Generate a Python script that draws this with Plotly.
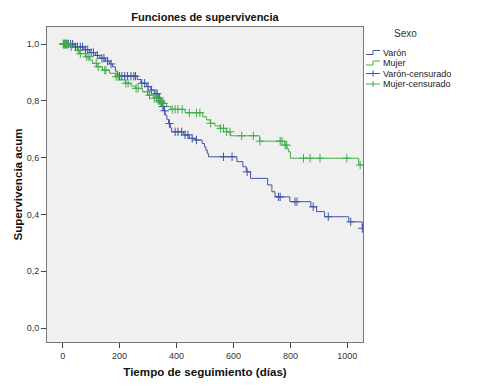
import numpy as np
import plotly.graph_objects as go

# Kaplan-Meier step data (time in days, cumulative survival)
varon_t = [0, 40, 75, 95, 115, 130, 150, 165, 175, 185, 192, 262, 275, 295, 310, 322, 335, 345, 350, 355, 360, 366, 372, 378, 383,
           425, 445, 465, 490, 498, 503, 508, 512, 612, 633, 645, 660, 720, 735, 746, 798, 872, 892, 920, 1005, 1052, 1055]
varon_s = [1.0, 0.99, 0.98, 0.97, 0.96, 0.95, 0.94, 0.93, 0.92, 0.905, 0.887, 0.875, 0.862, 0.85, 0.838, 0.825, 0.81, 0.795, 0.78, 0.765, 0.75, 0.735, 0.72, 0.705, 0.691,
           0.68, 0.668, 0.662, 0.65, 0.638, 0.627, 0.615, 0.603, 0.586, 0.568, 0.55, 0.527, 0.504, 0.48, 0.462, 0.445, 0.427, 0.41, 0.392, 0.374, 0.351, 0.351]
varon_cens = [3, 6, 9, 12, 15, 20, 28, 35, 45, 52, 62, 70, 80, 88, 100, 108, 122, 138, 145, 158, 170, 200, 208, 218, 228, 240, 250, 256,
              278, 288, 300, 312, 328, 332, 340, 346, 352, 358, 375, 395, 405, 418, 430, 440, 455, 470, 565, 595, 648, 758, 764,
              816, 823, 880, 933, 1012, 1053]

mujer_t = [0, 25, 45, 60, 80, 95, 105, 120, 140, 165, 185, 200, 220, 240, 255, 280, 300, 318, 335, 348, 365, 380, 430, 492, 505, 518,
           535, 553, 575, 590, 692, 780, 788, 793, 800, 1040, 1055]
mujer_s = [1.0, 0.99, 0.978, 0.966, 0.955, 0.944, 0.932, 0.92, 0.908, 0.897, 0.885, 0.874, 0.862, 0.852, 0.844, 0.832, 0.82, 0.809, 0.8, 0.791, 0.78, 0.77, 0.758, 0.744, 0.733, 0.721,
           0.712, 0.703, 0.691, 0.677, 0.658, 0.644, 0.632, 0.621, 0.598, 0.574, 0.574]
mujer_cens = [2, 4, 6, 8, 10, 12, 14, 18, 30, 55, 62, 85, 92, 118, 125, 148, 152, 188, 195, 222, 230, 258, 265, 298, 305, 322, 330,
              338, 342, 345, 350, 355, 385, 395, 405, 420, 445, 470, 482, 520, 555, 565, 576, 588, 629, 670, 693, 764, 770, 781,
              787, 846, 869, 904, 998, 1045]

x_ticks = [0, 200, 400, 600, 800, 1000]
y_ticks = [0.0, 0.2, 0.4, 0.6, 0.8, 1.0]

legend_title = "Sexo"
legend_names = ["Varón", "Mujer", "Varón-censurado", "Mujer-censurado"]

BLUE = "#3f55a5"
GREEN = "#3fae49"
FONT = "Liberation Sans, Arial, sans-serif"

W, H = 486, 389
ML, MR, MT, MB = 47, 123, 27, 47
PW, PH = W - ML - MR, H - MT - MB


def px(xp):
    return (xp - ML) / PW


def py(yp):
    return (H - MB - yp) / PH


def step_lookup(times, surv, pts):
    idx = np.searchsorted(np.array(times), np.array(pts), side="right") - 1
    return np.array(surv)[idx]


fig = go.Figure()
fig.add_trace(go.Scatter(x=varon_t, y=varon_s, mode="lines", line=dict(shape="hv", color=BLUE, width=1),
                         name=legend_names[0], showlegend=False))
fig.add_trace(go.Scatter(x=mujer_t, y=mujer_s, mode="lines", line=dict(shape="hv", color=GREEN, width=1),
                         name=legend_names[1], showlegend=False))
fig.add_trace(go.Scatter(x=varon_cens, y=step_lookup(varon_t, varon_s, varon_cens), mode="markers",
                         marker=dict(symbol="cross-thin", size=6, line=dict(color=BLUE, width=1)),
                         name=legend_names[2], showlegend=False))
fig.add_trace(go.Scatter(x=mujer_cens, y=step_lookup(mujer_t, mujer_s, mujer_cens), mode="markers",
                         marker=dict(symbol="cross-thin", size=6, line=dict(color=GREEN, width=1)),
                         name=legend_names[3], showlegend=False))

# Custom compact legend (SPSS style)
shapes = []
annotations = []
annotations.append(dict(text=legend_title, xref="paper", yref="paper", x=px(405), y=py(33), xanchor="center",
                        yanchor="middle", showarrow=False, font=dict(family=FONT, size=10, color="#333")))
row_y = [52.5, 63, 73.5, 84]
colors = [BLUE, GREEN, BLUE, GREEN]
for i, (name, c, ry) in enumerate(zip(legend_names, colors, row_y)):
    annotations.append(dict(text=name, xref="paper", yref="paper", x=px(381), y=py(ry), xanchor="left",
                            yanchor="middle", showarrow=False, font=dict(family=FONT, size=9, color="#222")))
    if i < 2:
        path = (f"M {px(366)},{py(ry + 2)} L {px(373)},{py(ry + 2)} L {px(373)},{py(ry - 2)} "
                f"L {px(380)},{py(ry - 2)}")
        shapes.append(dict(type="path", xref="paper", yref="paper", path=path, line=dict(color=c, width=1)))
    else:
        shapes.append(dict(type="line", xref="paper", yref="paper", x0=px(366), x1=px(380), y0=py(ry), y1=py(ry),
                           line=dict(color=c, width=1)))
        shapes.append(dict(type="line", xref="paper", yref="paper", x0=px(373), x1=px(373), y0=py(ry - 3),
                           y1=py(ry + 3), line=dict(color=c, width=1)))

fig.update_layout(
    width=W, height=H,
    margin=dict(l=ML, r=MR, t=MT, b=MB),
    paper_bgcolor="white", plot_bgcolor="#f0f0f0",
    separators=",.",
    font=dict(family=FONT, size=9, color="#333"),
    title=dict(text="<b>Funciones de supervivencia</b>", x=205 / W, xanchor="center", y=1 - 17 / H, yanchor="middle",
               font=dict(size=11, color="#111")),
    showlegend=False,
    hovermode=False,
    shapes=shapes,
    annotations=annotations,
    xaxis=dict(range=[-55, 1055], tickvals=x_ticks, ticktext=[str(v) for v in x_ticks], ticks="outside", ticklen=5,
               tickcolor="#444", showgrid=False, zeroline=False, showline=True, linecolor="#777", linewidth=1, mirror=True,
               automargin=False,
               title=dict(text="<b>Tiempo de seguimiento (días)</b>", font=dict(size=11.6, color="#111"), standoff=8),
               tickfont=dict(size=9, color="#333")),
    yaxis=dict(range=[-0.049, 1.06], tickvals=y_ticks, tickformat=".1f", ticks="outside", ticklen=5,
               tickcolor="#444", showgrid=False, zeroline=False, showline=True, linecolor="#777", linewidth=1, mirror=True,
               automargin=False,
               title=dict(text="<b>Supervivencia acum</b>", font=dict(size=11.6, color="#111"), standoff=1),
               tickfont=dict(size=9, color="#333")),
)

fig.write_html("out.html", config={"displayModeBar": False},
               post_script="document.body.style.margin='0';document.body.style.padding='0';")
